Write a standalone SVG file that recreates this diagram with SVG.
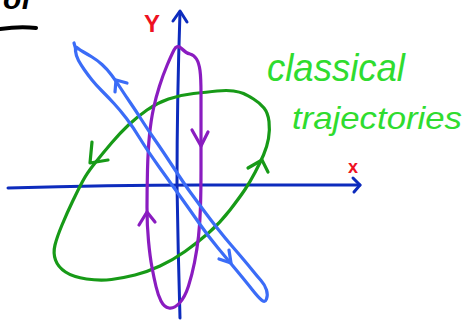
<svg xmlns="http://www.w3.org/2000/svg" width="469" height="323" viewBox="0 0 469 323">
<style>
.s{fill:none;stroke-linecap:round;stroke-linejoin:round}
.axis{stroke:#0d2bbd;stroke-width:3}
.green{stroke:#179a17;stroke-width:3.2}
.purple{stroke:#8a1cc0;stroke-width:3.2}
.blue{stroke:#3b6cf7;stroke-width:3.2}
.hand{font-family:"Liberation Sans",Arial,sans-serif;font-style:italic}
.lbl{fill:#2fdc2f}
.red{fill:#ee1122;font-family:"Liberation Sans",Arial,sans-serif;font-weight:bold}
</style>
<rect width="469" height="323" fill="#ffffff"/>
<g id="heading">
<text class="hand" x="3" y="9" font-size="30" font-weight="bold" fill="#000">of</text>
<path class="s" d="M0,29 Q20,26 36,28" stroke="#000" stroke-width="4"/>
</g>
<g id="connectors">
<g id="axes">
<path class="s axis" d="M180,318 Q178,250 177,185 Q177,100 180,12"/>
<path class="s axis" d="M173,21 L180,11 L187,22"/>
<path class="s axis" d="M8,188 Q110,185 200,185 T360,185"/>
<path class="s axis" d="M353,178 L360,185 L354,192"/>
</g>
<g id="green-trajectory">
<path class="s green" d="M233.5,91 Q227,90 217,91 Q207,92 193.5,93.5 Q180,95 168.5,99 Q157,103 147,110 Q137,117 128.5,125 Q120,133 111.5,143 Q103,153 95,163 Q87,173 82.5,181.5 Q78,190 72.5,201.5 Q67,213 62,225 Q57,237 55,245 Q53,253 55.5,260 Q58,267 65.5,272 Q73,277 86.5,279 Q100,281 111.5,279.5 Q123,278 135,275 Q147,272 160,266 Q173,260 185,251.5 Q197,243 208.5,233 Q220,223 230,210 Q240,197 245,189.5 Q250,182 255,172.5 Q260,163 263.5,155 Q267,147 268.5,138.5 Q270,130 269,121.5 Q268,113 264,108 Q260,103 253.5,99 Q247,95 243.5,93.5 Q240,92 233.5,91 Z"/>
<path class="s green" d="M92,142 L90,163 L108,160"/>
<path class="s green" d="M248,168 L262,160 L268,172"/>
</g>
<g id="purple-trajectory">
<path class="s purple" d="M174,50 Q177,44 181.5,48.5 Q186,53 190,54 Q194,55 196.5,59 Q199,63 200,70.5 Q201,78 201,94 Q201,110 201,130 Q201,150 201,170 Q201,190 200.5,206.5 Q200,223 198.5,236.5 Q197,250 194.5,262.5 Q192,275 188.5,286 Q185,297 179.5,303 Q174,309 169,308 Q164,307 161,301 Q158,295 156,286.5 Q154,278 152,267.5 Q150,257 148.5,241 Q147,225 147,207.5 Q147,190 147.5,170 Q148,150 149.5,135 Q151,120 153.5,108.5 Q156,97 159.5,86 Q163,75 167,65.5 Q171,56 174,50 Z"/>
<path class="s purple" d="M192,130 L201,146 L208,132"/>
<path class="s purple" d="M139,225 L147,212 L155,222"/>
</g>
<g id="blue-trajectory">
<path class="s blue" d="M77.5,48 Q75,46 75.5,51 Q76,56 78.5,60.5 Q81,65 84.5,70 Q88,75 92,80 Q96,85 102,91 Q108,97 114,103.5 Q120,110 126.5,118.5 Q133,127 140,138.5 Q147,150 159.5,167.5 Q172,185 181,197.5 Q190,210 199,223 Q208,236 218,248 Q228,260 237.5,271.5 Q247,283 252.5,290 Q258,297 261.5,300 Q265,303 266.5,299 Q268,295 266.5,290 Q265,285 261,280.5 Q257,276 253,271 Q249,266 243.5,259.5 Q238,253 231.5,245.5 Q225,238 217.5,228.5 Q210,219 203,209.5 Q196,200 190.5,192.5 Q185,185 173.5,167.5 Q162,150 155,140 Q148,130 142,120.5 Q136,111 130.5,103 Q125,95 120.5,88 Q116,81 111.5,75 Q107,69 102,64.5 Q97,60 92,57 Q87,54 83.5,52 Q80,50 77.5,48 Z"/>
<path class="s blue" d="M76,50 L74,43"/>
<path class="s blue" d="M127,83 L116,80 L115,92"/>
<path class="s blue" d="M219,259 L231,263 L229,250"/>
</g>
</g>
<g id="label-y"><text class="red" x="144" y="32" font-size="24">Y</text></g>
<g id="label-x"><text class="red" x="348" y="173" font-size="18">x</text></g>
<g id="label-classical">
<text class="hand lbl" x="267" y="81" font-size="38" textLength="138" lengthAdjust="spacingAndGlyphs">classical</text>
<text class="hand lbl" x="292" y="129" font-size="32" textLength="170" lengthAdjust="spacingAndGlyphs">trajectories</text>
</g>
</svg>
